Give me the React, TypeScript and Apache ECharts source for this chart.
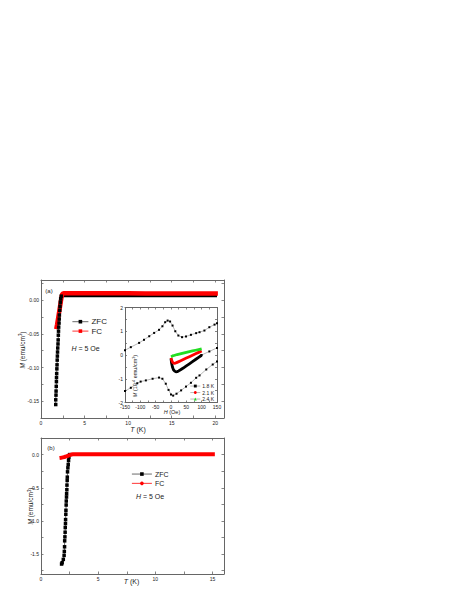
import React, { useEffect, useRef } from "react";
import * as echarts from "echarts";

// ---------- Panel (a): M vs T, H = 5 Oe (0–21 K) ----------
const zfcA_T = [1.69, 1.69, 1.72, 1.73, 1.75, 1.77, 1.78, 1.80, 1.82, 1.84, 1.86, 1.88, 1.90, 1.92, 1.95, 1.97, 1.99, 2.01, 2.03, 2.07, 2.09, 2.11, 2.15, 2.18, 2.22, 2.26, 2.32];
const zfcA_M = [-0.155, -0.148, -0.141, -0.135, -0.128, -0.121, -0.115, -0.109, -0.102, -0.096, -0.089, -0.083, -0.077, -0.071, -0.065, -0.059, -0.052, -0.046, -0.040, -0.034, -0.028, -0.022, -0.015, -0.009, -0.003, 0.002, 0.006];
const zfcA_plateauT = [2.32, 2.5, 3, 5, 8, 10, 12, 15, 18, 20.2];
const zfcA_plateauM = [0.006, 0.0065, 0.0066, 0.0066, 0.0066, 0.0066, 0.0066, 0.0066, 0.0065, 0.0065];
const fcA_T = [1.75, 1.85, 1.95, 2.05, 2.15, 2.25, 2.35, 2.45, 2.6, 3, 5, 8, 10, 12, 15, 18, 20.3];
const fcA_M = [-0.043, -0.036, -0.028, -0.020, -0.012, -0.004, 0.004, 0.0095, 0.0103, 0.0104, 0.0104, 0.0103, 0.0102, 0.0101, 0.0100, 0.0099, 0.0098];

// ---------- Panel (b): M vs T, H = 5 Oe (0–16 K) ----------
const zfcB_T = [1.80, 1.85, 1.95, 2.02, 2.04, 2.06, 2.07, 2.09, 2.11, 2.12, 2.14, 2.15, 2.17, 2.18, 2.20, 2.21, 2.23, 2.24, 2.26, 2.27, 2.29, 2.30, 2.32, 2.35, 2.38, 2.41, 2.44, 2.50];
const zfcB_M = [-1.65, -1.63, -1.58, -1.52, -1.46, -1.39, -1.30, -1.24, -1.17, -1.10, -1.04, -0.98, -0.90, -0.84, -0.76, -0.70, -0.64, -0.59, -0.53, -0.46, -0.39, -0.34, -0.26, -0.20, -0.15, -0.09, -0.04, 0.0];
const fcB_T = [1.62, 1.75, 1.9, 2.05, 2.2, 2.35, 2.5, 2.65, 2.8, 3, 4, 6, 8, 10, 12, 14, 15.2];
const fcB_M = [-0.05, -0.047, -0.042, -0.036, -0.028, -0.018, -0.008, 0.0, 0.004, 0.005, 0.005, 0.005, 0.005, 0.005, 0.005, 0.005, 0.005];

// ---------- Inset: M (10^-4 emu/cm^3) vs H (Oe) ----------
const loopUpperH = [-150, -131, -104, -88, -71, -55, -39, -28, -19, -11, -3, 5, 14, 24, 36, 49, 65, 82, 93, 109, 125, 142, 150];
const loopUpperM = [0.2, 0.33, 0.51, 0.64, 0.79, 0.93, 1.06, 1.21, 1.38, 1.45, 1.41, 1.24, 1.0, 0.82, 0.75, 0.78, 0.85, 0.92, 0.96, 1.03, 1.17, 1.28, 1.34];
const loopLowerH = [-150, -131, -110, -99, -82, -60, -39, -28, -17, -8, 0, 7, 18, 33, 49, 65, 82, 93, 115, 136, 150];
const loopLowerM = [-1.52, -1.38, -1.19, -1.12, -1.07, -1.0, -0.95, -1.0, -1.21, -1.47, -1.66, -1.71, -1.63, -1.49, -1.33, -1.17, -0.96, -0.86, -0.61, -0.40, -0.27];
const extH = [100, 125, 150];
const extM = [0.0, 0.15, 0.3];
const k18H = [0, 2, 5, 8, 12, 16, 20, 25, 30, 40, 50, 60, 70, 80, 90, 100];
const k18M = [-0.15, -0.35, -0.52, -0.62, -0.68, -0.71, -0.70, -0.67, -0.63, -0.55, -0.46, -0.37, -0.28, -0.19, -0.10, -0.01];
const k21H = [0, 3, 6, 10, 15, 20, 30, 40, 50, 60, 70, 80, 90, 100];
const k21M = [-0.12, -0.25, -0.32, -0.35, -0.34, -0.31, -0.25, -0.19, -0.13, -0.07, -0.01, 0.05, 0.11, 0.17];
const k24H = [0, 5, 10, 20, 30, 40, 50, 60, 70, 80, 90, 100];
const k24M = [-0.07, -0.04, -0.02, 0.02, 0.05, 0.08, 0.11, 0.14, 0.17, 0.20, 0.23, 0.26];

// ---------- Tick labels / tick positions ----------
const xA_labels = [0, 5, 10, 15, 20];
const xA_ticks = [0, 2.5, 5, 7.5, 10, 12.5, 15, 17.5, 20];
const yA_labels = [-0.15, -0.1, -0.05, 0];
const yA_ticks = [-0.15, -0.125, -0.1, -0.075, -0.05, -0.025, 0, 0.025];
const xB_labels = [0, 5, 10, 15];
const xB_ticks = [0, 2.5, 5, 7.5, 10, 12.5, 15];
const yB_labels = [-1.5, -1.0, -0.5, 0];
const yB_ticks = [-1.75, -1.5, -1.25, -1.0, -0.75, -0.5, -0.25, 0, 0.25];
const xC_labels = [-150, -100, -50, 0, 50, 100, 150];
const xC_ticks = [-150, -125, -100, -75, -50, -25, 0, 25, 50, 75, 100, 125, 150];
const yC_labels = [-2, -1, 0, 1, 2];
const yC_ticks = [-2, -1.5, -1, -0.5, 0, 0.5, 1, 1.5, 2];

const FF = '"Liberation Sans", Arial, Helvetica, sans-serif';
const FRAME = "#666";

const zip = (a: number[], b: number[]) => a.map((v, i) => [v, b[i]]);

function axis(
  gridIndex: number,
  position: string,
  min: number,
  max: number,
  labels: number[],
  ticks: number[],
  showLabels: boolean,
  fmt: (v: number) => string,
  tickLen = 2.5
) {
  return {
    type: "value",
    gridIndex,
    position,
    min,
    max,
    splitLine: { show: false },
    axisLine: { show: true, onZero: false, lineStyle: { color: FRAME, width: 1 } },
    axisTick: {
      show: true,
      inside: true,
      length: tickLen,
      customValues: ticks,
      lineStyle: { color: FRAME, width: 0.8 },
    },
    axisLabel: {
      show: showLabels,
      customValues: labels,
      formatter: fmt,
      fontSize: 5,
      margin: 2,
      color: "#222",
      fontFamily: FF,
    },
  };
}

const richStyles = (fs: number) => ({
  i: { fontStyle: "italic", fontSize: fs, fontFamily: FF, fill: "#222" },
  s: { fontSize: fs * 0.68, fontFamily: FF, fill: "#222", verticalAlign: "top" },
});

const txt = (x: number, y: number, text: string, fontSize: number, rotation = 0) => ({
  type: "text",
  x,
  y,
  rotation,
  style: {
    text,
    fontSize,
    fontFamily: FF,
    fill: "#222",
    align: "center",
    verticalAlign: "middle",
    rich: richStyles(fontSize),
  },
});

export default function App() {
  const ref = useRef<HTMLDivElement>(null);

  useEffect(() => {
    if (!ref.current) return;
    const chart = echarts.init(ref.current, undefined, { renderer: "svg" });

    const f2 = (v: number) => v.toFixed(2);
    const f1 = (v: number) => v.toFixed(1);
    const f0 = (v: number) => String(Math.round(v));

    const option: any = {
      animation: false,
      backgroundColor: "#fff",
      textStyle: { fontFamily: FF },
      grid: [
        { left: 41, top: 280, width: 183, height: 138 },
        { left: 41, top: 438, width: 183, height: 136 },
        { left: 125, top: 307.5, width: 92, height: 95 },
      ],
      xAxis: [
        axis(0, "bottom", 0, 21, xA_labels, xA_ticks, true, f0),
        axis(0, "top", 0, 21, xA_labels, xA_ticks, false, f0),
        axis(1, "bottom", 0, 16, xB_labels, xB_ticks, true, f0),
        axis(1, "top", 0, 16, xB_labels, xB_ticks, false, f0),
        axis(2, "bottom", -150, 150, xC_labels, xC_ticks, true, f0, 2),
        axis(2, "top", -150, 150, xC_labels, xC_ticks, false, f0, 2),
      ],
      yAxis: [
        axis(0, "left", -0.175, 0.03, yA_labels, yA_ticks, true, f2),
        axis(0, "right", -0.175, 0.03, yA_labels, yA_ticks, false, f2),
        axis(1, "left", -1.8, 0.25, yB_labels, yB_ticks, true, f1),
        axis(1, "right", -1.8, 0.25, yB_labels, yB_ticks, false, f1),
        axis(2, "left", -2, 2, yC_labels, yC_ticks, true, f0, 2),
        axis(2, "right", -2, 2, yC_labels, yC_ticks, false, f0, 2),
      ],
      legend: [
        {
          data: ["ZFC(a)", "FC(a)"],
          orient: "vertical",
          left: 72,
          top: 317,
          padding: 0,
          itemWidth: 16,
          itemHeight: 4.5,
          itemGap: 0,
          formatter: (n: string) => n.replace(/\(.\)/, ""),
          lineStyle: { width: 0.8 },
          textStyle: { fontSize: 8, lineHeight: 9.4, color: "#222", fontFamily: FF, padding: [0, 0, 0, -2] },
          selectedMode: false,
        },
        {
          data: ["ZFC(b)", "FC(b)"],
          orient: "vertical",
          left: 131.5,
          top: 469.4,
          padding: 0,
          itemWidth: 20,
          itemHeight: 4.5,
          itemGap: 0,
          formatter: (n: string) => n.replace(/\(.\)/, ""),
          lineStyle: { width: 0.8 },
          textStyle: { fontSize: 7, lineHeight: 9.3, color: "#222", fontFamily: FF, padding: [0, 0, 0, -2] },
          selectedMode: false,
        },
        {
          data: ["1.8 K", "2.1 K", "2.4 K"],
          orient: "vertical",
          left: 190,
          top: 382.8,
          padding: 0,
          itemWidth: 10,
          itemHeight: 3.6,
          itemGap: 0,
          lineStyle: { color: "#888", width: 0.6 },
          textStyle: { fontSize: 5, lineHeight: 6.5, color: "#222", fontFamily: FF, padding: [0, 0, 0, -3] },
          selectedMode: false,
        },
      ],
      series: [
        // Panel (a)
        {
          name: "ZFC(a)plateau",
          type: "line",
          xAxisIndex: 0,
          yAxisIndex: 0,
          data: zip(zfcA_plateauT, zfcA_plateauM),
          symbol: "none",
          lineStyle: { color: "#000", width: 3 },
          z: 2,
        },
        {
          name: "FC(a)",
          type: "line",
          xAxisIndex: 0,
          yAxisIndex: 0,
          data: zip(fcA_T, fcA_M),
          symbol: "rect",
          symbolSize: 4,
          showSymbol: false,
          itemStyle: { color: "#ff0000" },
          lineStyle: { color: "#ff0000", width: 4.5 },
          z: 3,
        },
        {
          name: "ZFC(a)",
          type: "line",
          xAxisIndex: 0,
          yAxisIndex: 0,
          data: zip(zfcA_T, zfcA_M),
          symbol: "rect",
          symbolSize: 3.5,
          itemStyle: { color: "#000" },
          lineStyle: { color: "#444", width: 0.8 },
          z: 4,
        },
        // Panel (b)
        {
          name: "ZFC(b)",
          type: "line",
          xAxisIndex: 2,
          yAxisIndex: 2,
          data: zip(zfcB_T, zfcB_M),
          symbol: "rect",
          symbolSize: 3.5,
          itemStyle: { color: "#000" },
          lineStyle: { color: "#444", width: 0.8 },
          z: 2,
        },
        {
          name: "FC(b)",
          type: "line",
          xAxisIndex: 2,
          yAxisIndex: 2,
          data: zip(fcB_T, fcB_M),
          symbol: "circle",
          symbolSize: 4,
          showSymbol: false,
          itemStyle: { color: "#ff0000" },
          lineStyle: { color: "#ff0000", width: 4 },
          z: 3,
        },
        // Inset
        {
          name: "loopUpper",
          type: "line",
          xAxisIndex: 4,
          yAxisIndex: 4,
          data: zip(loopUpperH, loopUpperM),
          symbol: "rect",
          symbolSize: 2,
          itemStyle: { color: "#000" },
          lineStyle: { color: "#888", width: 0.6 },
        },
        {
          name: "loopLower",
          type: "line",
          xAxisIndex: 4,
          yAxisIndex: 4,
          data: zip(loopLowerH, loopLowerM),
          symbol: "rect",
          symbolSize: 2,
          itemStyle: { color: "#000" },
          lineStyle: { color: "#888", width: 0.6 },
        },
        {
          name: "ext",
          type: "line",
          xAxisIndex: 4,
          yAxisIndex: 4,
          data: zip(extH, extM),
          symbol: "rect",
          symbolSize: 2,
          itemStyle: { color: "#000" },
          lineStyle: { color: "#888", width: 0.6 },
        },
        {
          name: "1.8 K",
          type: "line",
          xAxisIndex: 4,
          yAxisIndex: 4,
          data: zip(k18H, k18M),
          symbol: "rect",
          showSymbol: false,
          itemStyle: { color: "#000" },
          lineStyle: { color: "#000", width: 2.8 },
          z: 3,
        },
        {
          name: "2.1 K",
          type: "line",
          xAxisIndex: 4,
          yAxisIndex: 4,
          data: zip(k21H, k21M),
          symbol: "circle",
          showSymbol: false,
          itemStyle: { color: "#ff0000" },
          lineStyle: { color: "#ff0000", width: 2.8 },
          z: 4,
        },
        {
          name: "2.4 K",
          type: "line",
          xAxisIndex: 4,
          yAxisIndex: 4,
          data: zip(k24H, k24M),
          symbol: "triangle",
          showSymbol: false,
          itemStyle: { color: "#22dd22" },
          lineStyle: { color: "#22dd22", width: 2.8 },
          z: 5,
        },
      ],
      graphic: [
        txt(49, 291, "(a)", 6),
        txt(51, 447.5, "(b)", 6),
        txt(85.5, 348, "{i|H} = 5 Oe", 7),
        txt(150, 496.5, "{i|H} = 5 Oe", 7),
        txt(22, 350, "{i|M} (emu/cm{s|3})", 6.5, Math.PI / 2),
        txt(30.5, 506, "{i|M} (emu/cm{s|3})", 6.5, Math.PI / 2),
        txt(138, 429.5, "{i|T} (K)", 7),
        txt(131.5, 581.5, "{i|T} (K)", 7),
        txt(135, 376, "{i|M} (10{s|-4} emu/cm{s|3})", 5.5, Math.PI / 2),
        txt(172, 411.5, "{i|H} (Oe)", 5.5),
      ],
    };

    chart.setOption(option);
    return () => chart.dispose();
  }, []);

  return (
    <div
      ref={ref}
      style={{ position: "absolute", left: 0, top: 0, width: 463, height: 599 }}
    />
  );
}
